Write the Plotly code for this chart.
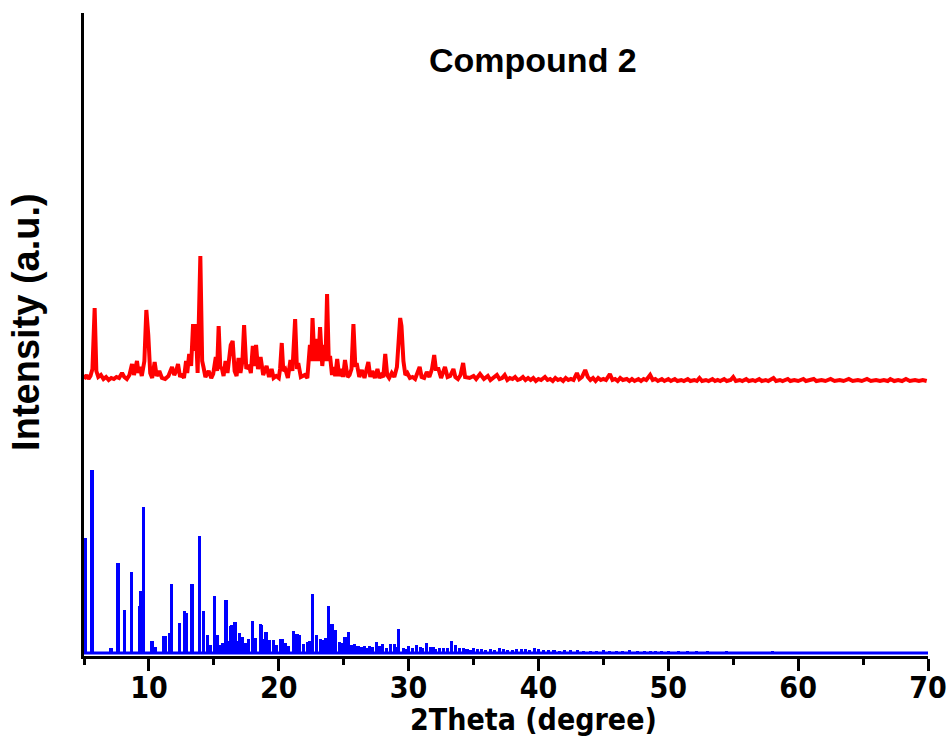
import plotly.graph_objects as go

# ---- data ----
# Experimental pattern (red), intensity above its own baseline
red_theta = [5.0, 5.2, 5.35, 5.5, 5.65, 5.82, 5.95, 6.1, 6.3, 6.5, 6.7, 6.9, 7.1, 7.3, 7.5, 7.7, 7.93, 8.1, 8.3, 8.5,
             8.7, 8.85, 9.08, 9.2, 9.3, 9.45, 9.65, 9.8, 9.95, 10.1, 10.25, 10.44, 10.6, 10.8, 11.0, 11.25, 11.5, 11.78,
             11.95, 12.1, 12.24, 12.4, 12.55, 12.7, 12.86, 12.95, 13.1, 13.25, 13.4, 13.5, 13.6, 13.75, 13.96, 14.1,
             14.2, 14.35, 14.6, 14.8, 14.95, 15.15, 15.25, 15.37, 15.5, 15.6, 15.75, 15.9, 16.05, 16.3, 16.45, 16.6,
             16.75, 16.9, 17.05, 17.2, 17.33, 17.5, 17.7, 17.85, 18.0, 18.12, 18.25, 18.4, 18.6, 18.8, 19.06, 19.25,
             19.45, 19.6, 19.8, 20.0, 20.1, 20.23, 20.35, 20.5, 20.7, 20.9, 21.05, 21.26, 21.4, 21.5, 21.7, 22.0, 22.2,
             22.4, 22.5, 22.6, 22.75, 22.9, 23.05, 23.18, 23.35, 23.5, 23.6, 23.72, 23.85, 23.95, 24.1, 24.2, 24.35,
             24.5, 24.65, 24.85, 24.95, 25.1, 25.3, 25.45, 25.6, 25.75, 25.9, 26.0, 26.2, 26.4, 26.6, 26.9, 27.05,
             27.2, 27.4, 27.6, 27.75, 27.9, 28.05, 28.2, 28.35, 28.5, 28.7, 28.9, 29.1, 29.25, 29.35, 29.45, 29.6,
             29.75, 29.9, 30.1, 30.3, 30.5, 30.7, 30.85, 31.0, 31.2, 31.4, 31.6, 31.8, 31.97, 32.1, 32.3, 32.5, 32.8,
             33.0, 33.2, 33.45, 33.6, 33.8, 34.0, 34.2, 34.35, 34.7, 35.0, 35.2, 35.5, 35.8,
             36.1, 36.3, 36.5, 36.8, 37.0, 37.2, 37.4, 37.6, 37.8, 38.0, 38.2, 38.4, 38.6, 38.8, 39.0, 39.2, 39.4,
             39.6, 39.8, 40.0, 40.2, 40.5, 40.7, 40.9, 41.1, 41.3, 41.5, 41.7, 41.9, 42.1, 42.3, 42.5, 42.7, 42.96,
             43.15, 43.35, 43.6, 43.8, 44.0, 44.2, 44.4, 44.6, 44.8, 45.0, 45.2, 45.5, 45.7, 45.9, 46.1, 46.3, 46.5,
             46.8, 47.0, 47.2, 47.4, 47.7, 47.9, 48.1, 48.3, 48.6, 48.8, 49.0, 49.2, 49.5, 49.7, 50.0, 50.2, 50.5,
             50.7, 51.0, 51.2, 51.5, 51.7, 52.0, 52.2, 52.4, 52.6, 52.9, 53.1, 53.4, 53.6, 53.8, 54.0, 54.3, 54.5,
             54.8, 55.0, 55.2, 55.5, 55.7, 56.0, 56.2, 56.5, 56.7, 57.0, 57.2, 57.5, 57.7, 58.1, 58.3, 58.6, 58.8,
             59.2, 59.4, 59.7, 60.0, 60.4, 60.6, 60.9, 61.2, 61.4, 61.8, 62.1, 62.5, 62.8, 63.2, 63.5, 63.9, 64.2,
             64.6, 64.9, 65.3, 65.6, 66.0, 66.3, 66.6, 66.9, 67.1, 67.4, 67.7, 68.0, 68.3, 68.6, 69.0, 69.3, 69.6, 69.9]
red_counts = [2, 6, 2, 5, 12, 73, 10, 4, 6, 2, 4, 1, 3, 2, 4, 3, 8, 4, 2, 6,
              17, 6, 20, 8, 14, 5, 20, 71, 46, 8, 3, 19, 5, 10, 3, 2, 5, 14,
              6, 10, 17, 4, 7, 3, 20, 8, 27, 15, 57, 30, 57, 8, 125, 20,
              14, 4, 10, 3, 7, 24, 10, 55, 12, 14, 5, 20, 8, 36, 40, 10,
              5, 23, 8, 20, 56, 12, 16, 8, 35, 15, 36, 12, 24, 6, 15, 4,
              12, 3, 5, 3, 12, 38, 10, 12, 3, 21, 10, 62, 12, 18, 4, 6, 3,
              36, 20, 63, 20, 42, 20, 54, 15, 36, 20, 87, 20, 25, 6, 14, 5,
              22, 5, 12, 4, 21, 4, 6, 12, 57, 14, 18, 4, 11, 3, 19, 4,
              10, 3, 12, 3, 6, 4, 27, 6, 3, 8, 4, 14, 40, 63, 55, 20,
              6, 8, 3, 4, 2, 8, 14, 4, 3, 9, 4, 12, 26, 12, 12, 3, 14,
              4, 5, 12, 4, 2, 6, 18, 4, 3, 5, 2, 7, 2,
              5, 1, 3, 6, 2, 3, 6, 1, 3, 2, 4, 1, 2, 4, 1, 3, 1,
              3, 0, 2, 1, 4, 1, 2, 0, 3, 1, 2, 0, 3, 1, 2, 1, 8,
              2, 4, 11, 4, 1, 3, 0, 3, 1, 2, 1, 7, 1, 2, 0, 3, 1,
              2, 0, 2, 0, 2, 0, 2, 1, 6, 1, 2, 0, 2, 0, 2, 0, 2,
              0, 1, 0, 2, 0, 1, 0, 3, 0, 1, 0, 2, 0, 1, 0, 2, 0,
              1, 4, 0, 1, 0, 2, 0, 1, 0, 2, 0, 1, 0, 3, 0, 1, 0,
              2, 0, 1, 0, 2, 0, 1, 2, 0, 1, 0, 2, 0, 1, 0, 2, 0,
              1, 0, 2, 0, 1, 0, 1, 0, 2, 0, 1, 0, 2, 0, 1, 0, 1, 0]
red_offset = 272

# Simulated pattern (blue sticks): strong reflections
blue_theta = [5.1, 5.62, 7.08, 7.62, 8.13, 8.65, 9.26, 9.37, 9.6, 10.24, 10.5, 11.14, 11.3, 11.57, 11.73, 12.37,
              12.76, 12.9, 13.32, 13.88, 14.22, 14.48, 14.73, 15.04, 15.25, 15.5, 15.94, 16.27, 16.38, 16.63, 17.0,
              17.2, 17.66, 17.99, 18.56, 18.7, 19.02, 19.3, 19.6, 20.15, 20.3, 20.74, 21.13, 21.4, 21.6, 22.2, 22.6,
              22.9, 23.2, 23.4, 23.82, 24.1, 24.4, 24.7, 25.1, 25.4, 25.8, 26.1, 26.6, 27.0, 27.5, 28.0, 28.6, 28.9,
              29.2, 29.6, 30.0, 30.6, 31.4, 31.9, 32.4, 33.3, 33.6, 34.2, 35.0, 35.6, 36.3, 37.0, 37.6, 38.3, 39.0,
              39.7, 40.4, 41.2, 42.0, 43.0, 44.0, 45.0, 46.0, 47.0, 48.2, 49.0, 50.0, 51.5, 53.0, 54.5, 56.0, 58.0,
              60.0, 62.0, 65.0]
blue_counts = [115, 183, 5, 90, 43, 81, 47, 62, 146, 12, 6, 17, 17, 20, 69, 30,
               42, 40, 69, 117, 42, 18, 8, 57, 18, 8, 53, 27, 28, 31, 20,
               16, 14, 32, 29, 28, 21, 13, 13, 14, 14, 7, 22, 19, 18, 11, 59,
               18, 14, 13, 47, 29, 23, 11, 16, 21, 9, 7, 7, 7, 11, 9, 9, 9,
               24, 5, 7, 8, 10, 6, 5, 12, 8, 5, 5, 4, 4, 5, 3, 4, 4,
               5, 3, 3, 3, 3, 2, 3, 2, 3, 2, 2, 2, 2, 2, 2, 1, 2,
               1, 1, 1]
# weak reflections
blue_theta_weak = [15.7, 16.1, 16.9, 17.4, 18.2, 18.9, 19.8, 20.5, 21.9, 22.4, 23.6, 24.9, 25.6, 26.4, 26.8, 27.2,
                   27.8, 28.3, 29.0, 29.8, 30.3, 30.9, 31.1, 31.7, 32.1, 32.7, 33.0, 33.9, 34.5, 34.8, 35.3, 35.9,
                   36.6, 37.3, 38.0, 38.7, 39.3, 40.0, 40.8, 41.6, 42.5, 43.5, 44.5, 45.5, 46.5, 47.6, 48.6, 49.5,
                   50.8, 52.2, 53.7, 55.2, 57.0, 59.0, 61.0]
blue_counts_weak = [10, 12, 12, 10, 15, 14, 8, 10, 9, 12, 15, 10, 8, 6, 5, 6,
                    7, 5, 6, 4, 5, 6, 5, 6, 4, 5, 5, 5, 4, 3, 4, 3,
                    3, 4, 3, 4, 3, 4, 3, 2, 3, 2, 2, 2, 2, 2, 2, 2,
                    2, 2, 1, 1, 1, 1, 1]
blue_base_theta = [5, 70]
blue_base_counts = [0, 0]

x_ticks = [10, 20, 30, 40, 50, 60, 70]

FONT = "Liberation Sans Narrow, DejaVu Sans Condensed, Arial, Liberation Sans, sans-serif"
FONT2 = "Arial, Liberation Sans, sans-serif"

fig = go.Figure()
fig.add_trace(go.Scatter(x=blue_base_theta, y=blue_base_counts, mode="lines",
                         line=dict(color="#0000FF", width=3), hoverinfo="skip", showlegend=False))
fig.add_trace(go.Bar(x=blue_theta + blue_theta_weak, y=blue_counts + blue_counts_weak, width=0.24,
                     marker=dict(color="#0000FF", line=dict(width=0)), showlegend=False))
fig.add_trace(go.Scatter(x=red_theta, y=[v + red_offset for v in red_counts], mode="lines",
                         line=dict(color="#FF0000", width=4), showlegend=False))

fig.update_layout(
    width=947, height=744,
    margin=dict(l=84, r=19, t=13, b=88, autoexpand=False),
    paper_bgcolor="white", plot_bgcolor="white",
    bargap=0,
    xaxis=dict(range=[5, 70], tickvals=x_ticks, ticks="outside", ticklen=12, tickwidth=3, tickcolor="black",
               showline=True, linecolor="black", linewidth=3, showgrid=False, zeroline=False, automargin=False,
               minor=dict(dtick=5, tick0=5, ticks="outside", ticklen=6, tickwidth=3, tickcolor="black", showgrid=False),
               ticklabelstandoff=-9, ticklabeloverflow="allow",
               tickfont=dict(family=FONT, size=30, color="black", weight="bold")),
    yaxis=dict(range=[-3, 640], showticklabels=False, ticks="", showline=True, linecolor="black", linewidth=3,
               showgrid=False, zeroline=False, automargin=False),
    annotations=[
        dict(text="2Theta (degree)", xref="paper", yref="paper", x=0.532, y=-0.099, xanchor="center",
             yanchor="middle", showarrow=False,
             font=dict(family=FONT, size=30, color="black", weight="bold")),
        dict(text="Intensity (a.u.)", xref="paper", yref="paper", x=-0.068, y=0.519, xanchor="center",
             yanchor="middle", showarrow=False, textangle=-90,
             font=dict(family=FONT2, size=38, color="black", weight="bold")),
        dict(text="Compound 2", xref="paper", yref="paper", x=0.532, y=0.927, xanchor="center",
             yanchor="middle", showarrow=False,
             font=dict(family=FONT2, size=34, color="black", weight="bold")),
    ],
)

fig.write_html("out.html")
